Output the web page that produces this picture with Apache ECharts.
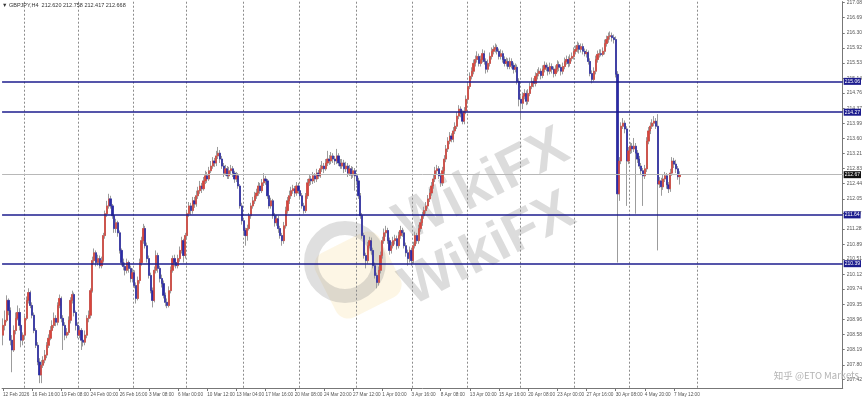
<!DOCTYPE html>
<html><head><meta charset="utf-8">
<script src="https://cdn.jsdelivr.net/npm/echarts@6/dist/echarts.min.js"></script>
<style>html,body{margin:0;padding:0;background:#fff}#c{width:865px;height:405px}</style>
</head><body><div id="c"></div>
<script>
const titleText = '\u25BC GBPJPY,H4  212.620 212.758 212.417 212.668';
const firstOpen = 208.56;
const closes = [208.81,208.94,209.45,209.19,208.43,208.18,208.68,208.99,209.14,208.81,
208.43,208.56,208.99,209.45,209.65,209.32,209.07,208.68,208.30,207.87,
207.54,207.79,207.92,208.05,208.30,208.48,208.68,208.81,208.99,208.89,
209.32,209.50,208.99,208.81,208.56,208.63,208.94,209.45,209.60,209.14,
208.81,208.56,208.68,208.43,208.38,208.56,208.99,209.07,209.70,210.47,
210.67,210.42,210.52,210.34,210.47,211.11,211.67,211.87,212.05,211.87,
211.62,211.29,211.44,211.18,210.73,210.42,210.32,210.22,210.42,210.27,
210.01,210.16,209.83,209.50,209.96,210.42,210.98,211.29,210.85,210.52,
210.09,209.70,209.45,210.22,210.60,210.27,210.01,209.88,209.58,209.40,
209.32,209.70,210.22,210.52,210.42,210.34,210.52,210.73,210.98,210.60,
211.11,211.67,211.87,211.75,212.00,211.92,212.13,212.26,212.38,212.31,
212.51,212.64,212.56,212.77,212.89,213.02,212.97,213.15,213.22,213.07,
212.89,212.71,212.82,212.64,212.77,212.82,212.71,212.56,212.64,212.38,
211.87,211.49,211.24,211.11,211.29,211.62,211.87,212.00,212.13,212.20,
212.38,212.26,212.46,212.56,212.51,212.13,211.87,212.00,211.62,211.44,
211.54,211.29,211.11,210.98,211.36,211.75,212.00,212.13,212.26,212.31,
212.20,212.38,212.26,212.13,211.87,211.75,212.13,212.46,212.56,212.51,
212.64,212.56,212.71,212.64,212.82,212.89,212.82,212.97,213.07,213.02,
213.15,213.07,213.02,213.15,212.97,212.89,212.97,212.82,212.89,212.71,
212.82,212.66,212.77,212.64,212.51,212.13,211.62,211.11,210.60,210.47,
210.85,210.98,210.73,210.34,210.09,209.91,210.22,210.60,210.98,211.18,
211.24,210.98,210.73,210.85,210.98,211.03,210.85,211.11,211.24,211.18,
210.85,210.67,210.52,210.73,210.47,210.85,211.11,210.98,211.29,211.44,
211.62,211.75,211.87,212.05,212.20,212.38,212.56,212.77,212.82,212.64,
212.46,212.77,213.07,213.33,213.53,213.66,213.58,213.79,213.91,214.17,
214.35,214.24,214.04,214.30,214.60,214.93,215.19,215.32,215.52,215.62,
215.70,215.52,215.62,215.77,215.57,215.37,215.52,215.70,215.83,215.88,
215.93,215.83,215.70,215.77,215.62,215.52,215.57,215.44,215.57,215.47,
215.37,215.42,215.06,214.60,214.50,214.68,214.75,214.55,214.75,214.93,
215.06,215.01,215.19,215.26,215.32,215.21,215.37,215.47,215.42,215.32,
215.44,215.37,215.26,215.37,215.49,215.42,215.32,215.44,215.57,215.62,
215.52,215.65,215.70,215.83,215.88,215.98,215.88,215.95,215.83,215.77,
215.80,215.57,215.26,215.11,215.32,215.62,215.75,215.77,215.75,215.83,
216.03,216.13,216.21,216.23,216.18,216.13,215.24,212.18,213.02,213.91,
213.99,213.84,213.02,213.28,213.40,213.33,213.40,213.22,213.07,212.89,
212.77,212.64,212.82,213.53,213.79,213.91,213.99,214.04,213.91,212.43,
212.51,212.36,212.56,212.64,212.41,212.31,212.71,213.02,212.94,212.82,
212.62,212.668];
const highs = [208.99,209.19,209.58,209.50,209.27,208.56,208.81,209.14,209.32,209.25,
208.89,208.63,209.07,209.55,209.76,209.70,209.40,209.14,208.74,208.38,
207.97,207.92,208.02,208.18,208.38,208.58,208.79,208.94,209.14,209.07,
209.40,209.60,209.55,209.07,208.89,208.74,209.04,209.53,209.70,209.65,
209.19,208.89,208.79,208.74,208.53,208.68,209.07,209.19,209.76,210.57,
210.78,210.73,210.62,210.60,210.57,211.18,211.75,212.00,212.18,212.13,
211.92,211.69,211.54,211.49,211.24,210.78,210.52,210.42,210.52,210.47,
210.34,210.27,210.22,209.91,210.06,210.52,211.08,211.41,211.36,210.93,
210.60,210.16,209.78,210.32,210.73,210.67,210.34,210.11,209.96,209.65,
209.50,209.81,210.32,210.60,210.62,210.52,210.62,210.83,211.08,211.03,
211.18,211.75,211.97,211.95,212.10,212.10,212.26,212.36,212.51,212.46,
212.61,212.77,212.74,212.87,213.02,213.12,213.10,213.28,213.38,213.30,
213.15,212.97,212.92,212.89,212.87,212.92,212.89,212.77,212.74,212.71,
212.43,211.95,211.54,211.31,211.39,211.69,211.95,212.10,212.23,212.31,
212.48,212.46,212.56,212.71,212.64,212.56,212.20,212.08,212.05,211.69,
211.64,211.62,211.36,211.18,211.46,211.85,212.10,212.26,212.36,212.41,
212.38,212.48,212.46,212.33,212.20,211.95,212.20,212.56,212.66,212.64,
212.74,212.71,212.82,212.79,212.92,213.02,212.97,213.07,213.28,213.17,
213.25,213.22,213.15,213.33,213.22,213.07,213.07,213.05,213.00,212.97,
212.92,212.89,212.87,212.84,212.71,212.59,212.20,211.69,211.18,210.67,
210.95,211.08,211.06,210.80,210.42,210.16,210.32,210.70,211.08,211.29,
211.36,211.31,211.06,210.95,211.08,211.13,211.11,211.21,211.36,211.31,
211.26,210.93,210.75,210.83,210.80,210.95,211.21,211.18,211.39,211.54,
211.72,211.85,211.97,212.15,212.31,212.48,212.66,212.87,212.92,212.89,
212.71,212.87,213.17,213.43,213.63,213.76,213.73,213.89,214.01,214.27,
214.45,214.42,214.32,214.40,214.70,215.03,215.29,215.42,215.62,215.72,
215.83,215.77,215.72,215.88,215.85,215.65,215.62,215.80,215.93,215.98,
216.03,216.00,215.90,215.88,215.85,215.70,215.67,215.65,215.67,215.65,
215.54,215.52,215.49,215.14,214.68,214.78,214.86,214.83,214.86,215.03,
215.16,215.14,215.29,215.37,215.42,215.39,215.47,215.57,215.54,215.49,
215.54,215.52,215.44,215.47,215.60,215.57,215.49,215.54,215.67,215.72,
215.70,215.75,215.80,215.93,215.98,216.08,216.05,216.03,216.03,215.90,
215.88,215.85,215.65,215.34,215.42,215.72,215.85,215.88,215.88,215.93,
216.13,216.23,216.31,216.34,216.31,216.26,216.21,215.32,213.12,214.01,
214.12,214.06,213.91,213.38,213.50,213.48,213.61,213.48,213.30,213.15,
212.97,212.84,212.92,213.63,213.89,214.01,214.09,214.17,214.12,214.22,
212.61,212.59,212.66,212.74,212.71,212.48,212.82,213.12,213.10,213.05,
212.89,212.758];
const lows = [208.30,208.68,208.89,209.07,208.30,207.61,208.13,208.58,208.94,208.68,
208.25,208.30,208.48,208.94,209.37,209.25,208.99,208.61,208.23,207.79,
207.33,207.33,207.72,207.84,207.97,208.23,208.43,208.58,208.74,208.79,
208.81,209.25,208.89,208.18,208.43,208.48,208.56,208.86,209.37,209.04,
208.68,208.48,208.48,208.18,208.27,208.30,208.48,208.89,208.99,209.65,
210.39,210.32,210.34,210.27,210.27,210.42,211.03,211.59,211.80,211.80,
211.54,211.18,211.18,211.08,210.65,210.34,210.22,210.09,210.14,210.16,
209.91,209.91,209.76,209.37,209.45,209.88,210.34,210.90,210.78,210.42,
210.01,209.63,209.27,209.40,210.14,210.16,209.91,209.78,209.50,209.30,
209.25,209.27,209.63,210.16,210.32,210.27,210.27,210.44,210.65,210.42,
210.52,211.03,211.59,211.64,211.67,211.82,211.85,212.05,212.18,212.20,
212.26,212.43,212.46,212.51,212.71,212.82,212.87,212.89,213.07,212.97,
212.82,212.61,212.64,212.56,212.56,212.69,212.61,212.46,212.48,212.31,
211.80,211.39,211.13,210.85,210.98,211.24,211.54,211.80,211.92,212.05,
212.13,212.18,212.20,212.38,212.41,212.05,211.80,211.80,211.54,211.34,
211.36,211.18,211.03,210.85,210.90,211.29,211.67,211.92,212.05,212.18,
212.10,212.13,212.18,212.05,211.80,211.67,211.69,212.05,212.38,212.41,
212.43,212.46,212.48,212.56,212.59,212.74,212.71,212.77,212.89,212.92,
212.94,212.97,212.92,212.94,212.89,212.82,212.82,212.71,212.74,212.61,
212.64,212.56,212.59,212.26,212.41,212.05,211.54,211.03,210.52,210.27,
210.39,210.78,210.62,210.27,210.01,209.76,209.83,210.14,210.52,210.90,
211.08,210.90,210.62,210.65,210.78,210.88,210.75,210.78,211.03,211.08,
210.78,210.57,210.34,210.42,210.34,210.39,210.78,210.90,210.90,211.21,
211.36,211.54,211.67,211.80,211.97,212.13,212.31,212.48,212.69,212.56,
212.36,212.38,212.69,212.99,213.25,213.45,213.50,213.50,213.71,213.84,
214.09,214.14,213.96,213.96,214.22,214.52,214.86,215.11,215.24,215.44,
215.54,215.44,215.44,215.54,215.49,215.26,215.29,215.44,215.62,215.75,
215.80,215.75,215.62,215.62,215.54,215.44,215.44,215.37,215.37,215.39,
215.26,215.29,214.98,214.42,214.09,214.35,214.60,214.45,214.47,214.68,
214.86,214.91,214.93,215.11,215.19,215.11,215.14,215.29,215.32,215.21,
215.24,215.26,215.16,215.19,215.29,215.32,215.21,215.24,215.37,215.49,
215.42,215.44,215.57,215.62,215.75,215.80,215.77,215.80,215.75,215.70,
215.67,215.49,215.19,215.01,215.06,215.24,215.54,215.67,215.70,215.70,
215.75,215.95,216.05,216.13,216.08,216.03,215.16,210.42,212.00,212.94,
213.84,213.73,211.87,212.94,213.20,213.22,213.25,211.67,212.97,212.82,
212.66,211.87,212.56,212.74,213.45,213.71,213.84,213.91,213.84,210.73,
212.33,212.13,212.28,212.48,212.31,212.20,212.23,212.64,212.84,212.71,
212.54,212.417];
const xTickLabels = ['12 Feb 2026','16 Feb 16:00','19 Feb 08:00','24 Feb 00:00','26 Feb 16:00','3 Mar 08:00','6 Mar 00:00','10 Mar 12:00','13 Mar 04:00','17 Mar 16:00','20 Mar 08:00','24 Mar 20:00','27 Mar 12:00','1 Apr 00:00','3 Apr 16:00','8 Apr 08:00','13 Apr 00:00','15 Apr 16:00','20 Apr 08:00','23 Apr 00:00','27 Apr 16:00','30 Apr 08:00','4 May 20:00','7 May 12:00'];
const yTickValues = [217.08,216.69,216.30,215.92,215.53,215.14,214.76,214.37,213.99,213.60,213.21,212.83,212.44,212.05,211.67,211.28,210.89,210.51,210.12,209.74,209.35,208.96,208.58,208.19,207.80,207.42];
const levelLines = [215.06, 214.27, 211.64, 210.39];
const lastPrice = 212.668;
const watermarkText = '\u77E5\u4E4E @ETO Markets';
const brandText = 'WikiFX';

// view settings
const slotCount = 461;          // visible bar slots incl. empty space on the right
const labelEvery = 16;          // bars between time labels
const gridBars = [12, 42, 72, 101, 132, 163, 194, 225, 255, 284, 314, 344, 381];
const yMin = 207.206, yMax = 217.10;

const n = closes.length;
const opens = [firstOpen].concat(closes.slice(0, n - 1));
const cats = Array.from({length: slotCount}, (_, i) => String(i));
const ohlc = closes.map((c, i) => [opens[i], c, lows[i], highs[i]]);
const bodies = closes.map((c, i) => [opens[i], c, Math.min(opens[i], c), Math.max(opens[i], c)]);
const isLabel = (i) => i % labelEvery === 0 && (i / labelEvery) < xTickLabels.length;

const NAVY = '#1c1c8e';
const lineLabel = (bg, txt) => ({
  show: true, position: 'end', distance: 1, formatter: txt,
  backgroundColor: bg, color: '#fff', fontSize: 5, padding: [1, 1, 1, 1], fontFamily: 'Liberation Sans'
});

const chart = echarts.init(document.getElementById('c'), null, {renderer: 'canvas'});
chart.setOption({
  animation: false,
  backgroundColor: '#ffffff',
  grid: {left: 0, right: 22, top: 0, bottom: 17, containLabel: false},
  xAxis: {
    type: 'category', data: cats, boundaryGap: true,
    axisLine: {show: true, lineStyle: {color: '#777', width: 1}},
    axisTick: {show: true, alignWithLabel: true, interval: (i) => isLabel(i), length: 3, lineStyle: {color: '#777'}},
    axisLabel: {interval: (i) => isLabel(i), formatter: (v) => xTickLabels[Number(v) / labelEvery],
      showMinLabel: true, showMaxLabel: true, hideOverlap: false,
      align: 'left', fontSize: 4.7, color: '#555', margin: 4, fontFamily: 'Liberation Sans'},
    splitLine: {show: true, interval: (i) => gridBars.includes(i), lineStyle: {color: '#8c8c8c', type: [2, 2], width: 1}}
  },
  yAxis: {
    type: 'value', position: 'right', min: yMin, max: yMax, scale: true,
    axisLine: {show: true, lineStyle: {color: '#777', width: 1}},
    axisTick: {show: true, customValues: yTickValues, length: 2, lineStyle: {color: '#777'}},
    axisLabel: {customValues: yTickValues, fontSize: 5, color: '#555', margin: 4,
      formatter: (v) => Number(v).toFixed(2), fontFamily: 'Liberation Sans'},
    splitLine: {show: false}
  },
  graphic: [
    {type: 'text', left: 2, top: 2, z: 10, style: {text: titleText, font: '5.5px Liberation Sans', fill: '#333'}},
    {type: 'rect', x: 358, y: 275, rotation: 0.47, z: -5, shape: {x: -36, y: -36, width: 72, height: 72, r: 14},
      style: {fill: 'rgba(248,230,180,0.35)'}},
    {type: 'circle', x: 345, y: 262, z: -5, shape: {cx: 0, cy: 0, r: 34},
      style: {fill: 'none', stroke: 'rgba(140,140,140,0.28)', lineWidth: 14}},
    {type: 'text', x: 482, y: 186, rotation: 0.47, z: -4,
      style: {text: brandText, font: 'bold 56px Liberation Sans', fill: 'rgba(120,120,120,0.26)', align: 'center', verticalAlign: 'middle'}},
    {type: 'text', x: 488, y: 250, rotation: 0.47, z: -4,
      style: {text: brandText, font: 'bold 56px Liberation Sans', fill: 'rgba(120,120,120,0.26)', align: 'center', verticalAlign: 'middle'}},
    {type: 'text', right: 6, top: 371, z: 10,
      style: {text: watermarkText, font: '9.5px "Noto Sans CJK SC"', fill: '#b4b4b4'}}
  ],
  series: [
    {
      name: 'wick', type: 'candlestick', data: ohlc, barWidth: 1.7, silent: true,
      itemStyle: {color: '#9c9c9c', color0: '#9c9c9c', borderColor: '#9c9c9c', borderColor0: '#9c9c9c', borderWidth: 1}
    },
    {
      name: 'body', type: 'candlestick', data: bodies, barWidth: 1.7, silent: true,
      itemStyle: {color: '#d9443c', color0: '#2a2aa8', borderColor: '#d9443c', borderColor0: '#2a2aa8', borderWidth: 0.6},
      markLine: {
        symbol: 'none', silent: true, animation: false,
        data: levelLines.map((v) => ({yAxis: v, lineStyle: {color: NAVY, width: 1.5, type: 'solid'}, label: lineLabel(NAVY, v.toFixed(2))}))
          .concat([{yAxis: lastPrice, lineStyle: {color: '#b8b8b8', width: 1, type: 'solid'}, label: lineLabel('#111', lastPrice.toFixed(2))}])
      }
    }
  ]
});
</script>
</body></html>
